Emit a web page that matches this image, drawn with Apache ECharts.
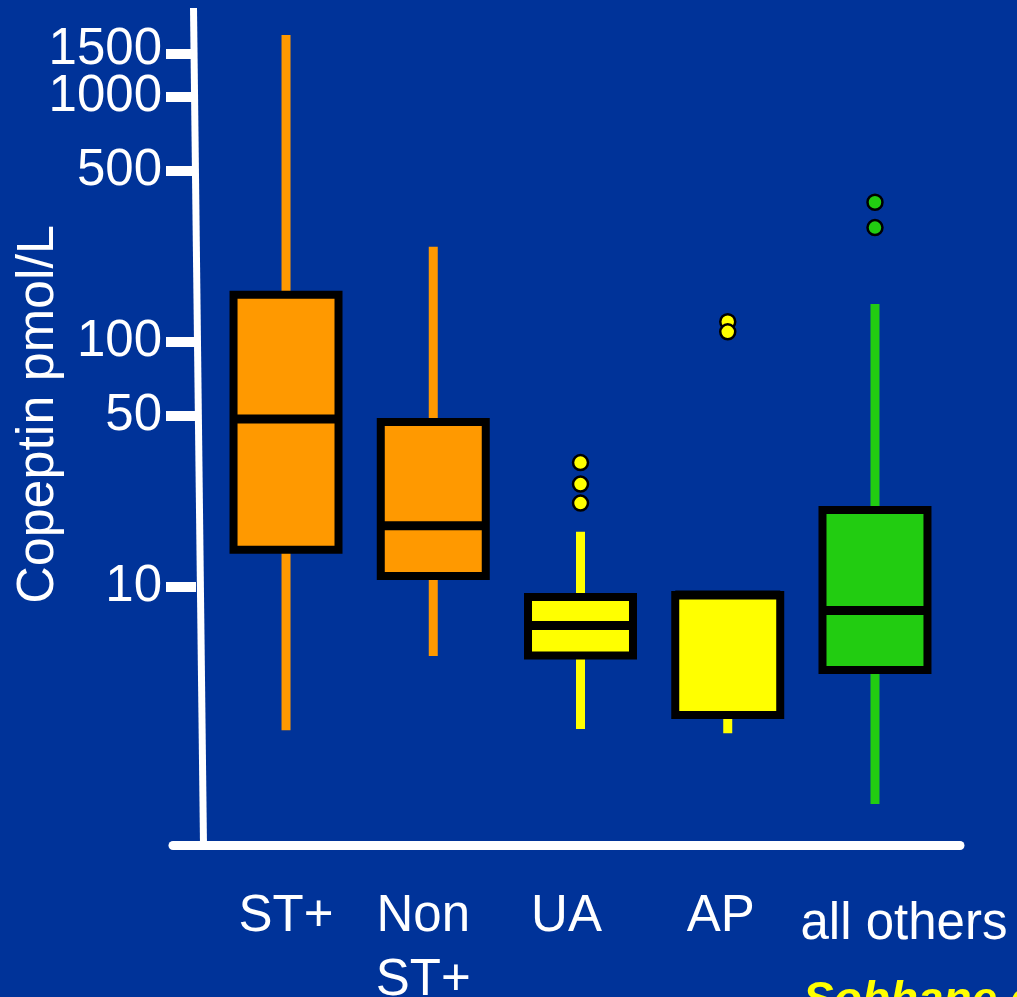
<!DOCTYPE html>
<html>
<head>
<meta charset="utf-8">
<script src="https://cdn.jsdelivr.net/npm/echarts@6/dist/echarts.min.js"></script>
<style>
  html, body { margin: 0; padding: 0; background: #003399; }
  #chart { width: 1017px; height: 997px; }
</style>
</head>
<body>
<div id="chart"></div>
<script>
// Copeptin levels by diagnosis group (log scale)
const categories = ['ST+', 'Non\nST+', 'UA', 'AP', 'all others'];
const lows    = [2.6, 5.23, 2.63, 2.53, 1.30];
const q1s     = [14.2, 11.1, 5.25, 3.0, 4.58];
const medians = [48.5, 17.8, 6.96, 9.28, 8.02];
const q3s     = [156, 47.1, 9.1, 9.28, 20.6];
const highs   = [1790, 245, 16.8, 9.28, 143];

// outliers: category index + value
const outlierCats   = [2, 2, 2, 3, 3, 4, 4];
const outlierValues = [32.2, 26.3, 22.0, 121, 110, 372, 293];

// y ticks; the top one sits on its own axis so the crowded pair both stay visible
const yTicks = [10, 50, 100, 500, 1000];
const yTopTick = [1500];
const yMin = 0.885;
const yMax = 2308;

const palette = ['#FF9900', '#FF9900', '#FFFF00', '#FFFF00', '#22CC11'];
const FONT = "'Liberation Sans', Arial, Helvetica, sans-serif";
const FS = 51;

const boxData = categories.map((c, i) => [i, lows[i], q1s[i], medians[i], q3s[i], highs[i]]);
const outlierData = outlierCats.map((c, i) => [c, outlierValues[i]]);

const chart = echarts.init(document.getElementById('chart'), null, { renderer: 'canvas' });

const labelRich = {
  s: { fontSize: FS, fontFamily: FONT, color: '#fff', lineHeight: 64 },
  n: { fontSize: FS, fontFamily: FONT, color: '#fff', lineHeight: 64, padding: [0, 20, 0, 0] },
  u: { fontSize: FS, fontFamily: FONT, color: '#fff', lineHeight: 64, padding: [0, 28, 0, 0] },
  p: { fontSize: FS, fontFamily: FONT, color: '#fff', lineHeight: 64, padding: [0, 14, 0, 0] },
  o: { fontSize: FS, fontFamily: FONT, color: '#fff', lineHeight: 80, padding: [0, 0, 0, 58] }
};
const labelKeys = ['s', 'n', 'u', 'p', 'o'];

function logAxis(values, extra) {
  return Object.assign({
    type: 'log',
    gridIndex: 0,
    position: 'left',
    min: yMin,
    max: yMax,
    offset: 16.4,
    axisLine: { show: false },
    splitLine: { show: false },
    axisTick: {
      show: true,
      customValues: values,
      length: 30,
      lineStyle: { color: '#fff', width: 10 }
    },
    axisLabel: {
      show: true,
      customValues: values,
      hideOverlap: false,
      margin: 34,
      color: '#fff',
      fontSize: FS,
      fontFamily: FONT,
      lineHeight: 30,
      formatter: function (v) { return String(Math.round(v)); }
    }
  }, extra || {});
}

const mainY = logAxis(yTicks, {
  name: 'Copeptin pmol/L',
  nameLocation: 'middle',
  nameRotate: 90,
  nameGap: 131,
  nameMoveOverlap: false,
  nameTextStyle: { color: '#fff', fontSize: 52, fontFamily: FONT, padding: [0, 0, 0, 24] }
});
const topY = logAxis(yTopTick);
topY.axisLabel.formatter = function (v) { return '{hi|' + Math.round(v) + '}'; };
topY.axisLabel.rich = { hi: { fontSize: FS, fontFamily: FONT, color: '#fff', lineHeight: 30, padding: [0, 0, 8, 0] } };

chart.setOption({
  backgroundColor: '#003399',
  animation: false,
  grid: [
    { left: 212.4, right: 68.4, top: 8, bottom: 152, containLabel: false, outerBoundsMode: 'none' },
    { left: 173, right: 57, top: 8, bottom: 152, containLabel: false, outerBoundsMode: 'none' }
  ],
  xAxis: [
    {
      type: 'category',
      gridIndex: 0,
      data: categories,
      axisLine: { show: false },
      axisTick: { show: false },
      splitLine: { show: false },
      axisLabel: {
        interval: 0,
        hideOverlap: false,
        margin: 40,
        color: '#fff',
        fontSize: FS,
        fontFamily: FONT,
        lineHeight: 64,
        formatter: function (value, idx) {
          const k = labelKeys[idx];
          return value.split('\n').map(line => '{' + k + '|' + line + '}').join('\n');
        },
        rich: labelRich
      }
    },
    {
      type: 'value',
      gridIndex: 1,
      min: 0,
      max: 1,
      axisLine: { show: true, onZero: false, lineStyle: { color: '#fff', width: 9 } },
      axisTick: { show: false },
      axisLabel: { show: false },
      splitLine: { show: false }
    }
  ],
  yAxis: [
    mainY,
    { type: 'value', gridIndex: 1, show: false },
    topY
  ],
  series: [
    {
      type: 'custom',
      xAxisIndex: 0,
      yAxisIndex: 0,
      data: boxData,
      encode: { x: 0, y: [1, 2, 3, 4, 5] },
      renderItem: function (params, api) {
        const i = api.value(0);
        const low = api.coord([i, api.value(1)]);
        const q1 = api.coord([i, api.value(2)]);
        const med = api.coord([i, api.value(3)]);
        const q3 = api.coord([i, api.value(4)]);
        const high = api.coord([i, api.value(5)]);
        const x = low[0];
        const w = api.size([1, 0])[0] * 0.713;
        const color = palette[i];
        return {
          type: 'group',
          children: [
            { type: 'line', shape: { x1: x, y1: high[1], x2: x, y2: low[1] },
              style: { stroke: color, lineWidth: 9 } },
            { type: 'rect', shape: { x: x - w / 2, y: q3[1], width: w, height: q1[1] - q3[1] },
              style: { fill: color, stroke: '#000', lineWidth: 8 } },
            { type: 'line', shape: { x1: x - w / 2, y1: med[1], x2: x + w / 2, y2: med[1] },
              style: { stroke: '#000', lineWidth: 9 } }
          ]
        };
      }
    },
    {
      type: 'scatter',
      xAxisIndex: 0,
      yAxisIndex: 0,
      data: outlierData,
      symbol: 'circle',
      symbolSize: 15,
      itemStyle: {
        color: function (p) { return palette[p.data[0]]; },
        borderColor: '#000',
        borderWidth: 2.5,
        opacity: 1
      }
    }
  ],
  graphic: [
    {
      type: 'line',
      shape: { x1: 193.5, y1: 8, x2: 203.5, y2: 846 },
      style: { stroke: '#fff', lineWidth: 7 }
    },
    {
      type: 'text',
      x: 803,
      y: 978,
      style: {
        text: 'Sobhane et al.',
        fill: '#FFFF00',
        fontSize: 46,
        fontStyle: 'italic',
        fontWeight: 'bold',
        fontFamily: FONT,
        verticalAlign: 'top',
        align: 'left'
      }
    }
  ]
});
</script>
</body>
</html>
